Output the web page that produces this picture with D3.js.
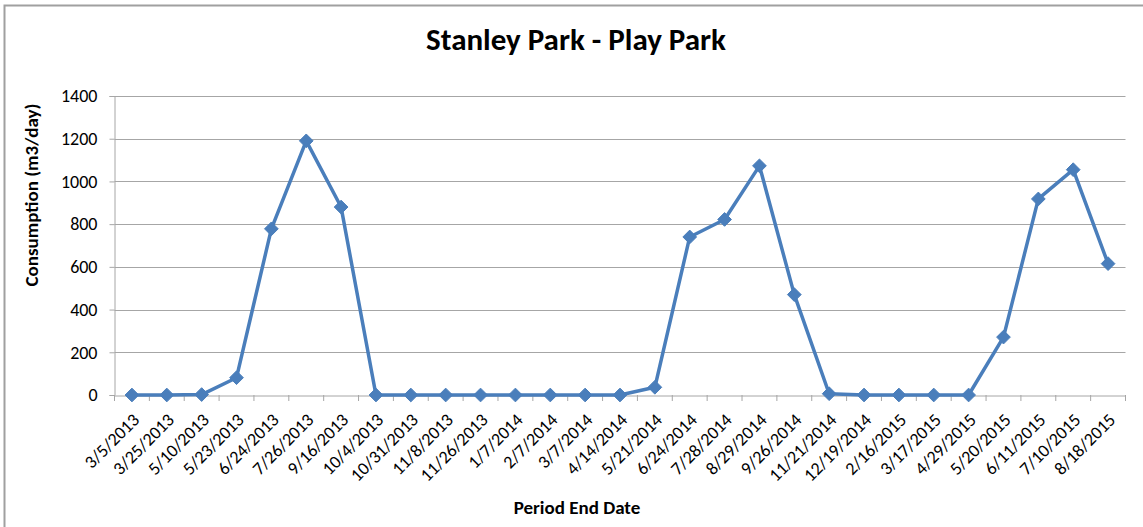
<!DOCTYPE html>
<html>
<head>
<meta charset="utf-8">
<script src="https://cdn.jsdelivr.net/npm/d3@7"></script>
<style>
  body { margin: 0; background: #fff; }
  svg { display: block; }
</style>
</head>
<body>
<svg id="chart" width="1143" height="527"></svg>
<script>
// period end dates (categories)
const periods = [
  "3/5/2013", "3/25/2013", "5/10/2013", "5/23/2013", "6/24/2013", "7/26/2013",
  "9/16/2013", "10/4/2013", "10/31/2013", "11/8/2013", "11/26/2013", "1/7/2014",
  "2/7/2014", "3/7/2014", "4/14/2014", "5/21/2014", "6/24/2014", "7/28/2014",
  "8/29/2014", "9/26/2014", "11/21/2014", "12/19/2014", "2/16/2015", "3/17/2015",
  "4/29/2015", "5/20/2015", "6/11/2015", "7/10/2015", "8/18/2015"
];

// consumption m3/day
const consumption = [
  0, 0, 2, 81, 778, 1190, 880, 0, 0, 0, 0, 0, 0, 0, 0, 36, 740, 822,
  1073, 470, 6, 0, 0, 0, 0, 271, 918, 1055, 615
];

const yTicks = [0, 200, 400, 600, 800, 1000, 1200, 1400];

const svg = d3.select('#chart');
const font = 'Carlito, Calibri, "Open Sans", sans-serif';

// chart border (only top & left show in the frame)
svg.append('rect')
  .attr('x', 4.5).attr('y', 5.5)
  .attr('width', 1150).attr('height', 540)
  .style('fill', 'none')
  .style('stroke', '#a0a0a0')
  .style('stroke-width', 2);

const plotLeft = 114.5, plotRight = 1125.5, plotTop = 96, plotBottom = 395;

const x = d3.scaleBand().domain(periods).range([plotLeft, plotRight]);
const y = d3.scaleLinear().domain([0, 1400]).range([plotBottom, plotTop]);

// gridlines
svg.append('g')
  .selectAll('line')
  .data(yTicks.slice(1))
  .enter()
  .append('line')
  .attr('x1', plotLeft).attr('x2', plotRight)
  .attr('y1', d => Math.round(y(d)) + 0.5)
  .attr('y2', d => Math.round(y(d)) + 0.5)
  .style('stroke', '#a6a6a6')
  .style('stroke-width', 1);

// y axis
const yAxis = svg.append('g')
  .attr('transform', `translate(${plotLeft},0)`)
  .call(d3.axisLeft(y).tickValues(yTicks).tickFormat(d3.format('d')).tickSize(5).tickPadding(12));
yAxis.select('.domain').style('stroke', '#a6a6a6');
yAxis.selectAll('.tick line').style('stroke', '#a6a6a6');
yAxis.selectAll('text')
  .style('font-family', font)
  .style('font-size', '18px')
  .style('fill', '#000');

// x axis, ticks drawn at category boundaries below
const xAxis = svg.append('g')
  .attr('transform', `translate(0,${Math.round(plotBottom) + 0.5})`)
  .call(d3.axisBottom(x).tickSize(0).tickPadding(0));
xAxis.select('.domain').style('stroke', '#a6a6a6');
xAxis.selectAll('.tick text')
  .attr('transform', 'translate(4,21) rotate(-45)')
  .attr('dy', '0.35em')
  .style('text-anchor', 'end')
  .style('font-family', font)
  .style('font-size', '18px')
  .style('fill', '#000');

svg.append('g')
  .selectAll('line')
  .data(d3.range(periods.length + 1))
  .enter()
  .append('line')
  .attr('x1', i => plotLeft + i * x.step())
  .attr('x2', i => plotLeft + i * x.step())
  .attr('y1', Math.round(plotBottom))
  .attr('y2', Math.round(plotBottom) + 6)
  .style('stroke', '#a6a6a6');

// line
const line = d3.line()
  .x((d, i) => x(periods[i]) + x.bandwidth() / 2)
  .y(d => y(d));

svg.append('path')
  .datum(consumption)
  .attr('d', line)
  .style('fill', 'none')
  .style('stroke', '#4a7ebb')
  .style('stroke-width', 3.5)
  .style('stroke-linejoin', 'round');

// diamond markers
svg.append('g')
  .selectAll('path')
  .data(consumption)
  .enter()
  .append('path')
  .attr('d', d3.symbol().type(d3.symbolDiamond2).size(120))
  .attr('transform', (d, i) => `translate(${x(periods[i]) + x.bandwidth() / 2},${y(d)})`)
  .style('fill', '#4a7ebb')
  .style('stroke', '#4a7ebb')
  .style('stroke-width', 1);

// titles
svg.append('text')
  .attr('x', 576).attr('y', 50)
  .attr('text-anchor', 'middle')
  .style('font-family', font)
  .style('font-size', '31px')
  .style('font-weight', 'bold')
  .text('Stanley Park - Play Park');

svg.append('text')
  .attr('x', 577).attr('y', 514)
  .attr('text-anchor', 'middle')
  .style('font-family', font)
  .style('font-size', '19px')
  .style('font-weight', 'bold')
  .text('Period End Date');

svg.append('text')
  .attr('transform', 'translate(38,195) rotate(-90)')
  .attr('text-anchor', 'middle')
  .style('font-family', font)
  .style('font-size', '19px')
  .style('font-weight', 'bold')
  .text('Consumption (m3/day)');
</script>
</body>
</html>
